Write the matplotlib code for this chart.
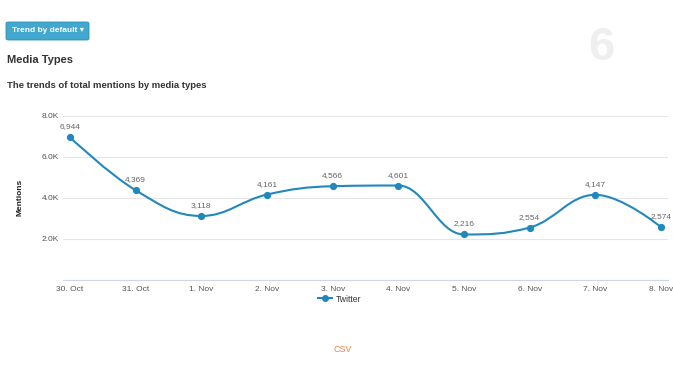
import numpy as np
import matplotlib.pyplot as plt
from matplotlib.path import Path
from matplotlib.patches import PathPatch, FancyBboxPatch
from matplotlib.lines import Line2D

plt.rcParams['font.family'] = ['Liberation Sans', 'DejaVu Sans']

# data
dates = ["30. Oct", "31. Oct", "1. Nov", "2. Nov", "3. Nov",
         "4. Nov", "5. Nov", "6. Nov", "7. Nov", "8. Nov"]
mentions = [6944, 4369, 3118, 4161, 4566, 4601, 2216, 2554, 4147, 2574]
yticks = [2000, 4000, 6000, 8000]
ytick_labels = ["2.0K", "4.0K", "6.0K", "8.0K"]

blue = "#2287bd"


def spline_path(xs, ys, smoothing=1.5):
    # highcharts-style spline control points
    n = len(xs)
    left = [(xs[i], ys[i]) for i in range(n)]
    right = [(xs[i], ys[i]) for i in range(n)]
    d = smoothing + 1
    for i in range(1, n - 1):
        x, y = xs[i], ys[i]
        lx, ly = xs[i - 1], ys[i - 1]
        nx, ny = xs[i + 1], ys[i + 1]
        lcx = (smoothing * x + lx) / d
        lcy = (smoothing * y + ly) / d
        rcx = (smoothing * x + nx) / d
        rcy = (smoothing * y + ny) / d
        if rcx != lcx:
            corr = (rcy - lcy) * (rcx - x) / (rcx - lcx) + y - rcy
            lcy += corr
            rcy += corr
            if lcy > ly and lcy > y:
                lcy = max(ly, y)
                rcy = 2 * y - lcy
            elif lcy < ly and lcy < y:
                lcy = min(ly, y)
                rcy = 2 * y - lcy
            if rcy > ny and rcy > y:
                rcy = max(ny, y)
                lcy = 2 * y - rcy
            elif rcy < ny and rcy < y:
                rcy = min(ny, y)
                lcy = 2 * y - rcy
        left[i] = (lcx, lcy)
        right[i] = (rcx, rcy)
    verts = [(xs[0], ys[0])]
    codes = [Path.MOVETO]
    for i in range(1, n):
        verts += [right[i - 1], left[i], (xs[i], ys[i])]
        codes += [Path.CURVE4] * 3
    return Path(verts, codes)


fig = plt.figure(figsize=(6.73, 3.79), dpi=100)
ax = fig.add_axes([63 / 673, 1 - 280 / 379, 605 / 673, (280 - 115.7) / 379])

x = np.arange(len(dates))
ax.add_patch(PathPatch(spline_path(list(x), mentions), fill=False,
                       edgecolor=blue, lw=1.5, zorder=3))
ax.plot(x, mentions, 'o', color=blue, ms=4.2, zorder=4)
for xi, v in zip(x, mentions):
    ax.annotate(f"{v:,}", (xi, v), xytext=(0, 5), textcoords='offset points',
                ha='center', va='bottom', fontsize=6, color='#666666', zorder=5)

ax.set_xlim(-0.107, 9.107)
ax.set_ylim(0, 8000)
ax.set_xticks(x)
ax.set_xticklabels(dates)
ax.set_yticks(yticks)
ax.set_yticklabels(ytick_labels)
ax.tick_params(axis='both', length=0, labelsize=6, labelcolor='#555555')
ax.tick_params(axis='x', pad=4)
ax.tick_params(axis='y', pad=3)
ax.grid(axis='y', color='#e6e6e6', lw=0.8)
ax.set_axisbelow(True)
for s in ['top', 'right', 'left']:
    ax.spines[s].set_visible(False)
ax.spines['bottom'].set_color('#ccd6eb')
ax.spines['bottom'].set_linewidth(0.8)
ax.set_ylabel("Mentions", fontsize=6, fontweight='bold', color='#222222', labelpad=13)

# legend
handle = Line2D([], [], color=blue, marker='o', ms=4, lw=1.5)
fig.legend([handle], ["Twitter"], loc='center', bbox_to_anchor=(0.505, 1 - 299 / 379),
           frameon=False, fontsize=6.2, handlelength=1.6, handletextpad=0.5,
           labelcolor='#333333')

# header elements
btn = FancyBboxPatch((6 / 673, 1 - 40 / 379), 83 / 673, 18 / 379,
                     boxstyle="round,pad=0,rounding_size=0.004",
                     transform=fig.transFigure, facecolor='#42a8cf',
                     edgecolor='#2f8fb0', lw=0.6)
fig.patches.append(btn)
fig.text(48 / 673, 1 - 31 / 379, "Trend by default \u25be", ha='center', va='center',
         fontsize=6, fontweight='bold', color='white')
fig.text(7 / 673, 1 - 60 / 379, "Media Types", ha='left', va='center',
         fontsize=8, fontweight='bold', color='#333333')
fig.text(7 / 673, 1 - 85 / 379, "The trends of total mentions by media types",
         ha='left', va='center', fontsize=6.8, fontweight='bold', color='#333333')
fig.text(601 / 673, 1 - 48 / 379, "6", ha='center', va='center',
         fontsize=34, fontweight='bold', color='#efefef')
fig.text(343 / 673, 1 - 349 / 379, "CSV", ha='center', va='center',
         fontsize=6.5, color='#e8874a')

fig.savefig("out.png", dpi=100)
